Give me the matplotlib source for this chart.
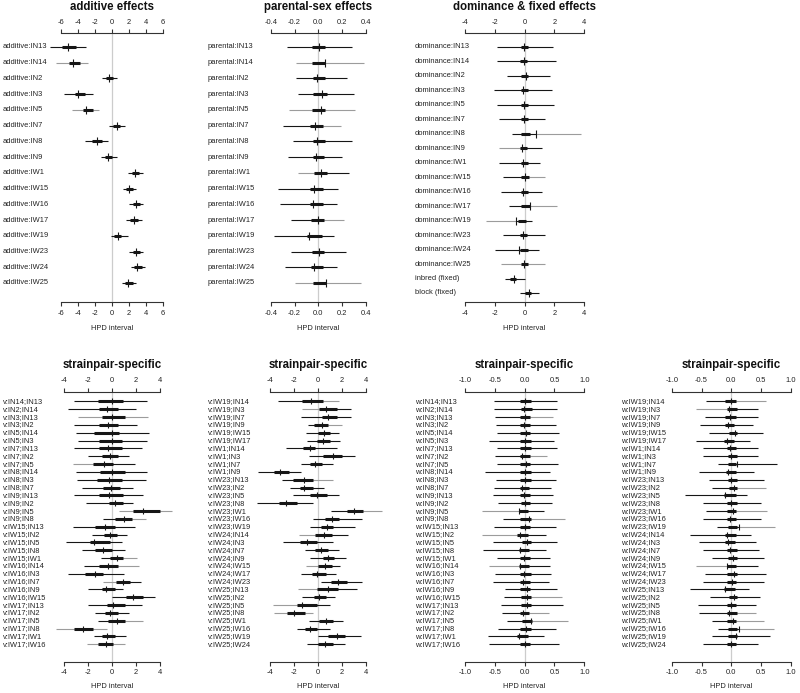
import matplotlib
matplotlib.use('Agg')
import matplotlib.pyplot as plt
from matplotlib.transforms import blended_transform_factory

plt.rcParams['font.family'] = ['Liberation Sans', 'DejaVu Sans']

# ---------------- data ----------------
strains_top = ['IN13', 'IN14', 'IN2', 'IN3', 'IN5', 'IN7', 'IN8', 'IN9',
               'IW1', 'IW15', 'IW16', 'IW17', 'IW19', 'IW23', 'IW24', 'IW25']

add_lo = [-7.29, -6.6, -1.14, -5.65, -4.75, -0.31, -3.14, -1.29, 1.92, 1.25, 1.96, 1.65, -0.12, 2.04, 2.2, 1.22]
add_hi = [-3.06, -2.86, 0.55, -2.27, -1.49, 1.53, -0.43, 0.55, 3.6, 2.82, 3.69, 3.57, 1.84, 3.69, 3.88, 2.82]
add_qlo = [-5.9, -5.1, -0.7, -4.35, -3.45, 0.16, -2.31, -0.82, 2.31, 1.65, 2.43, 2.12, 0.27, 2.43, 2.59, 1.53]
add_qhi = [-4.2, -3.8, 0.16, -3.18, -2.2, 0.94, -1.22, -0.04, 3.22, 2.43, 3.29, 3.1, 1.02, 3.29, 3.49, 2.43]
add_med = [-5.2, -4.55, -0.31, -4.04, -3.06, 0.55, -1.8, -0.47, 2.71, 2.0, 2.82, 2.59, 0.67, 2.78, 2.98, 1.92]

par_lo = [-0.266, -0.187, -0.187, -0.173, -0.246, -0.294, -0.21, -0.257, -0.173, -0.336, -0.322, -0.232, -0.372, -0.23, -0.28, -0.196]
par_hi = [0.28, 0.383, 0.238, 0.3, 0.308, 0.19, 0.28, 0.196, 0.257, 0.168, 0.16, 0.218, 0.131, 0.23, 0.16, 0.36]
par_qlo = [-0.056, -0.056, -0.048, -0.042, -0.056, -0.07, -0.048, -0.048, -0.036, -0.07, -0.07, -0.064, -0.098, -0.056, -0.062, -0.042]
par_qhi = [0.056, 0.056, 0.056, 0.07, 0.056, 0.042, 0.056, 0.048, 0.07, 0.036, 0.042, 0.048, 0.028, 0.048, 0.042, 0.064]
par_med = [0.008, 0.056, -0.008, 0.034, 0.02, -0.025, -0.008, -0.022, 0.02, -0.034, -0.042, -0.006, -0.076, 0.008, -0.036, 0.064]

dom_labels = ['dominance:' + s for s in strains_top] + ['inbred (fixed)', 'block (fixed)']
dom_lo = [-1.85, -1.85, -1.18, -2.07, -1.83, -1.71, -0.82, -1.71, -1.71, -1.44, -1.56, -1.06, -2.61, -1.44, -2.0, -1.56, -1.31, -0.3]
dom_hi = [1.92, 2.1, 1.7, 1.87, 1.96, 1.36, 3.82, 1.18, 1.02, 1.4, 1.2, 2.19, 0.53, 1.36, 0.98, 1.4, 0.03, 0.95]
dom_qlo = [-0.21, -0.28, -0.21, -0.21, -0.21, -0.21, -0.21, -0.28, -0.21, -0.21, -0.21, -0.21, -0.43, -0.28, -0.32, -0.21, -1.0, 0.01]
dom_qhi = [0.24, 0.17, 0.24, 0.24, 0.24, 0.24, 0.35, 0.17, 0.24, 0.28, 0.24, 0.35, 0.13, 0.19, 0.24, 0.24, -0.55, 0.46]
dom_med = [-0.05, -0.05, 0.13, -0.1, -0.05, -0.05, 0.8, -0.19, -0.1, 0.01, -0.1, 0.35, -0.55, -0.1, -0.37, -0.05, -0.7, 0.3]

pairs_a = ['IN14;IN13', 'IN2;IN14', 'IN3;IN13', 'IN3;IN2', 'IN5;IN14', 'IN5;IN3', 'IN7;IN13', 'IN7;IN2',
           'IN7;IN5', 'IN8;IN14', 'IN8;IN3', 'IN8;IN7', 'IN9;IN13', 'IN9;IN2', 'IN9;IN5', 'IN9;IN8',
           'IW15;IN13', 'IW15;IN2', 'IW15;IN5', 'IW15;IN8', 'IW15;IW1', 'IW16;IN14', 'IW16;IN3', 'IW16;IN7',
           'IW16;IN9', 'IW16;IW15', 'IW17;IN13', 'IW17;IN2', 'IW17;IN5', 'IW17;IN8', 'IW17;IW1', 'IW17;IW16']
pairs_b = ['IW19;IN14', 'IW19;IN3', 'IW19;IN7', 'IW19;IN9', 'IW19;IW15', 'IW19;IW17', 'IW1;IN14', 'IW1;IN3',
           'IW1;IN7', 'IW1;IN9', 'IW23;IN13', 'IW23;IN2', 'IW23;IN5', 'IW23;IN8', 'IW23;IW1', 'IW23;IW16',
           'IW23;IW19', 'IW24;IN14', 'IW24;IN3', 'IW24;IN7', 'IW24;IN9', 'IW24;IW15', 'IW24;IW17', 'IW24;IW23',
           'IW25;IN13', 'IW25;IN2', 'IW25;IN5', 'IW25;IN8', 'IW25;IW1', 'IW25;IW16', 'IW25;IW19', 'IW25;IW24']

va_lo = [-3.19, -3.67, -2.83, -3.19, -3.05, -2.83, -3.19, -1.99, -3.3, -3.03, -2.91, -2.55, -3.19, -2.19, 0.6, -0.8,
         -3.3, -1.69, -3.86, -2.55, -0.96, -2.36, -3.67, -0.8, -1.99, -0.04, -1.99, -1.44, -1.16, -4.7, -1.52, -2.08]
va_hi = [2.88, 1.99, 2.96, 2.1, 3.1, 2.88, 2.46, 1.38, 1.9, 2.88, 2.8, 1.77, 2.6, 1.71, 4.97, 2.82,
         1.9, 1.21, 0.79, 1.07, 2.04, 2.27, 0.99, 2.38, 0.93, 3.58, 2.46, 1.43, 2.6, -0.41, 1.15, 1.07]
va_qlo = [-1.16, -1.08, -0.88, -1.08, -1.49, -1.08, -1.08, -0.88, -1.58, -1.02, -1.24, -0.74, -1.08, -0.24, 1.71, 0.23,
          -1.44, -0.69, -1.86, -1.44, -0.18, -1.08, -2.27, 0.32, -0.88, 1.15, -0.46, -0.6, -0.32, -3.19, -0.88, -1.16]
va_qhi = [0.87, 0.51, 1.07, 0.51, 0.6, 0.79, 0.79, 0.51, 0.09, 1.07, 0.79, 0.65, 0.93, 0.93, 3.99, 1.63,
          0.23, 0.43, -0.18, -0.04, 0.93, 0.51, -0.74, 1.49, 0.23, 2.55, 1.07, 0.51, 1.07, -1.58, 0.23, 0.09]
va_med = [-0.04, -0.41, -0.04, -0.38, -0.04, 0.01, -0.32, -0.18, -0.66, -0.04, -0.24, -0.1, -0.24, 0.23, 2.55, 0.99,
          -0.6, -0.18, -1.52, -0.74, 0.43, -0.32, -1.44, 0.87, -0.52, 1.77, 0.09, -0.18, 0.37, -2.47, -0.41, -0.52]

vb_lo = [-3.33, -1.38, -1.47, -0.82, -1.02, -0.96, -2.69, -0.74, -1.44, -5.0, -3.05, -2.36, -2.13, -5.09, 1.04, -0.41,
         -0.69, -1.58, -2.91, -1.1, -0.69, -1.02, -1.47, 0.21, -1.66, -1.38, -3.75, -3.69, -0.74, -1.8, 0.01, -0.96]
vb_hi = [1.77, 2.71, 2.71, 1.96, 1.77, 1.82, 1.54, 3.08, 1.26, -1.44, 1.21, 0.48, 1.77, -0.46, 5.3, 3.63,
         3.08, 2.52, 1.21, 1.77, 2.32, 1.82, 1.49, 3.63, 3.21, 1.4, 0.99, -0.46, 2.1, 0.99, 3.55, 2.24]
vb_qlo = [-1.38, 0.09, 0.29, -0.32, 0.01, -0.13, -1.3, 0.37, -0.69, -3.69, -2.08, -1.52, -0.69, -3.25, 2.38, 0.57,
          0.21, -0.27, -1.52, -0.27, 0.37, 0.01, -0.55, 1.04, -0.13, -0.35, -1.8, -2.64, 0.09, -1.1, 0.85, 0.01]
vb_qhi = [0.37, 1.54, 1.6, 0.85, 0.99, 0.99, -0.27, 1.96, 0.29, -2.41, -0.41, -0.46, 0.71, -1.74, 3.72, 1.77,
          1.26, 1.13, -0.07, 0.85, 1.32, 1.13, 0.65, 2.38, 1.68, 0.65, -0.13, -1.1, 1.26, -0.13, 2.24, 1.26]
vb_med = [-0.6, 0.65, 0.85, 0.29, 0.48, 0.37, -0.69, 1.21, -0.27, -3.19, -1.19, -1.19, -0.07, -2.69, 2.99, 1.13,
          0.76, 0.48, -0.91, 0.23, 0.85, 0.57, -0.13, 1.68, 0.85, 0.07, -1.38, -2.02, 0.65, -0.69, 1.54, 0.57]

wa_lo = [-0.52, -0.52, -0.5, -0.48, -0.47, -0.6, -0.47, -0.5, -0.47, -0.66, -0.48, -0.52, -0.53, -0.45, -0.72, -0.36,
         -0.52, -0.72, -0.53, -0.7, -0.47, -0.6, -0.5, -0.53, -0.33, -0.35, -0.4, -0.38, -0.3, -0.45, -0.62, -0.6]
wa_hi = [0.55, 0.55, 0.48, 0.53, 0.58, 0.5, 0.55, 0.37, 0.56, 0.43, 0.53, 0.45, 0.48, 0.46, 0.32, 0.67,
         0.52, 0.36, 0.55, 0.35, 0.42, 0.43, 0.45, 0.4, 0.55, 0.62, 0.64, 0.4, 0.73, 0.52, 0.32, 0.58]
wa_qlo = [-0.07, -0.06, -0.08, -0.08, -0.08, -0.08, -0.07, -0.08, -0.08, -0.08, -0.08, -0.08, -0.08, -0.06, -0.1, -0.07,
          -0.07, -0.12, -0.05, -0.1, -0.08, -0.1, -0.08, -0.07, -0.07, -0.06, -0.06, -0.08, -0.05, -0.07, -0.12, -0.08]
wa_qhi = [0.1, 0.12, 0.09, 0.09, 0.09, 0.1, 0.11, 0.09, 0.09, 0.1, 0.1, 0.08, 0.09, 0.09, 0.06, 0.1,
          0.09, 0.06, 0.11, 0.08, 0.09, 0.08, 0.1, 0.09, 0.09, 0.1, 0.1, 0.07, 0.12, 0.1, 0.05, 0.09]
wa_med = [0.01, -0.01, 0.01, -0.01, 0.02, 0.0, 0.01, -0.05, 0.03, 0.0, 0.0, -0.04, -0.01, 0.01, -0.1, 0.08,
          0.01, -0.08, 0.04, -0.08, -0.01, -0.07, -0.01, -0.03, 0.04, 0.04, 0.04, -0.03, 0.1, 0.03, -0.1, 0.0]

wb_lo = [-0.42, -0.6, -0.45, -0.53, -0.37, -0.6, -0.47, -0.47, -0.22, -0.55, -0.38, -0.33, -0.77, -0.48, -0.42, -0.47,
         -0.24, -0.7, -0.55, -0.47, -0.32, -0.6, -0.45, -0.48, -0.7, -0.35, -0.56, -0.55, -0.33, -0.23, -0.33, -0.47]
wb_hi = [0.58, 0.45, 0.44, 0.36, 0.53, 0.31, 0.45, 0.45, 0.77, 0.38, 0.55, 0.58, 0.27, 0.49, 0.6, 0.49,
         0.74, 0.33, 0.42, 0.47, 0.54, 0.44, 0.58, 0.54, 0.3, 0.48, 0.42, 0.42, 0.55, 0.72, 0.64, 0.45]
wb_qlo = [-0.1, -0.08, -0.1, -0.1, -0.04, -0.12, -0.08, -0.06, -0.05, -0.09, -0.06, -0.04, -0.12, -0.08, -0.08, -0.08,
          -0.05, -0.1, -0.1, -0.07, -0.05, -0.08, -0.07, -0.07, -0.12, -0.04, -0.08, -0.08, -0.07, -0.06, -0.05, -0.08]
wb_qhi = [0.08, 0.1, 0.07, 0.05, 0.1, 0.05, 0.08, 0.1, 0.08, 0.07, 0.1, 0.1, 0.07, 0.1, 0.08, 0.08,
          0.1, 0.07, 0.06, 0.09, 0.1, 0.08, 0.1, 0.08, 0.06, 0.1, 0.08, 0.1, 0.08, 0.1, 0.1, 0.08]
wb_med = [0.0, -0.04, -0.02, -0.05, 0.06, -0.08, -0.03, -0.01, 0.1, -0.05, 0.0, 0.05, -0.1, 0.0, 0.02, -0.02,
          0.13, -0.07, -0.06, -0.02, 0.03, -0.08, 0.04, 0.01, -0.1, 0.04, -0.01, -0.04, 0.03, 0.13, 0.07, 0.0]

# which part of the thin 95% line is drawn grey: n=none, a=all, l=left, r=right
grey_add = 'nannannnnnnnnnnn'
grey_par = 'nannarnnlnnrnnna'
grey_dom = 'nnnnnnrlnrnrlnnann'
grey_va = 'nnannnnnlnnnnnarnnnnrrnlnnnnranan'[:32]
grey_vb = 'rlnrnnnnnnrnnnrnnlnnnlnnlnlannnn'
grey_wa = 'nnrnnnnrnnnnnnlrnlnnnlnnnrnrrnnn'
grey_wb = 'rlnnnnnnnnnrnnrnrnnnnlnnnnnrrrnn'

# ---------------- drawing ----------------
W, H = 800, 693
fig = plt.figure(figsize=(8, 6.93), dpi=100)
BLACK = '#161616'
GREY = '#9c9c9c'
TXT = '#222222'


def fx(px):
    return px / W


def fy(py):
    return 1 - py / H


def panel(px0, px1, v0, v1, ytop, ybot, first, last, ticks, ticklabels, title,
          title_y, xlab_y, label_x, labels, lo, hi, qlo, qhi, med, greys, ms, pad=0.2):
    n = len(labels)
    span = px1 - px0
    left = px0 - pad * span
    width = span * (1 + 2 * pad)
    ax = fig.add_axes([fx(left), fy(ybot), width / W, (ybot - ytop) / H])
    dv = v1 - v0
    ax.set_xlim(v0 - pad * dv, v1 + pad * dv)
    sp = (last - first) / (n - 1)
    ax.set_ylim(n + (ybot - last) / sp, 1 - (first - ytop) / sp)
    ax.patch.set_alpha(0)
    for s in ['left', 'right']:
        ax.spines[s].set_visible(False)
    for s in ['top', 'bottom']:
        ax.spines[s].set_bounds(v0, v1)
        ax.spines[s].set_linewidth(0.8)
        ax.spines[s].set_color('#333333')
    ax.set_yticks([])
    ax.set_xticks(ticks)
    ax.set_xticklabels(ticklabels)
    ax.tick_params(axis='x', top=True, bottom=True, labeltop=True, labelbottom=True,
                   direction='out', length=3, width=0.8, color='#333333',
                   labelcolor=TXT, labelsize=5.4, pad=2.4)
    ax.axvline(0, color='#cccccc', lw=0.9, zorder=0)
    trans = blended_transform_factory(fig.transFigure, ax.transData)
    for i in range(n):
        y = i + 1
        g = greys[i]
        cl = GREY if g in 'al' else BLACK
        cr = GREY if g in 'ar' else BLACK
        ax.plot([lo[i], med[i]], [y, y], color=cl, lw=0.8, solid_capstyle='butt', clip_on=False)
        ax.plot([med[i], hi[i]], [y, y], color=cr, lw=0.8, solid_capstyle='butt', clip_on=False)
        ax.plot([qlo[i], qhi[i]], [y, y], color=BLACK, lw=2.2, solid_capstyle='butt', clip_on=False)
        ax.plot([med[i]], [y], marker='|', ms=ms, mew=0.8, color=BLACK, clip_on=False)
        ax.text(fx(label_x), y, labels[i], transform=trans, ha='left', va='center',
                fontsize=5.4, color=TXT)
    cx = fx((px0 + px1) / 2)
    fig.text(cx, fy(title_y), title, ha='center', va='center', fontsize=8.3,
             fontweight='bold', color='#111111')
    fig.text(cx, fy(xlab_y), 'HPD interval', ha='center', va='center', fontsize=5.4, color=TXT)
    return ax


t6 = [-6, -4, -2, 0, 2, 4, 6]
t4 = [-4, -2, 0, 2, 4]
t04 = [-0.4, -0.2, 0.0, 0.2, 0.4]
t1 = [-1.0, -0.5, 0.0, 0.5, 1.0]
lab6 = ['-6', '-4', '-2', '0', '2', '4', '6']
lab4 = ['-4', '-2', '0', '2', '4']
lab04 = ['-0.4', '-0.2', '0.0', '0.2', '0.4']
lab1 = ['-1.0', '-0.5', '0.0', '0.5', '1.0']

panel(61, 163, -6, 6, 33, 302, 47, 283, t6, lab6, 'additive effects', 7, 328, 3,
      ['additive:' + s for s in strains_top], add_lo, add_hi, add_qlo, add_qhi, add_med, grey_add, 6)
panel(270.7, 366, -0.4, 0.4, 33, 302, 47, 283, t04, lab04, 'parental-sex effects', 7, 328, 208,
      ['parental:' + s for s in strains_top], par_lo, par_hi, par_qlo, par_qhi, par_med, grey_par, 6)
panel(465, 584, -4, 4, 33, 302, 47, 293, t4, lab4, 'dominance & fixed effects', 7, 328, 415,
      dom_labels, dom_lo, dom_hi, dom_qlo, dom_qhi, dom_med, grey_dom, 6)

panel(64.3, 160, -4, 4, 391.7, 661.7, 401.5, 644.3, t4, lab4, 'strainpair-specific', 365, 687, 3,
      ['v:' + p for p in pairs_a], va_lo, va_hi, va_qlo, va_qhi, va_med, grey_va, 5)
panel(270.3, 366, -4, 4, 391.7, 661.7, 401.5, 644.3, t4, lab4, 'strainpair-specific', 365, 687, 208,
      ['v:' + p for p in pairs_b], vb_lo, vb_hi, vb_qlo, vb_qhi, vb_med, grey_vb, 5)
panel(465, 584.3, -1, 1, 391.7, 661.7, 401.5, 644.3, t1, lab1, 'strainpair-specific', 365, 687, 415,
      ['w:' + p for p in pairs_a], wa_lo, wa_hi, wa_qlo, wa_qhi, wa_med, grey_wa, 5)
panel(671.7, 791, -1, 1, 391.7, 661.7, 401.5, 644.3, t1, lab1, 'strainpair-specific', 365, 687, 621,
      ['w:' + p for p in pairs_b], wb_lo, wb_hi, wb_qlo, wb_qhi, wb_med, grey_wb, 5)

fig.savefig('out.png', dpi=100, facecolor='white')
